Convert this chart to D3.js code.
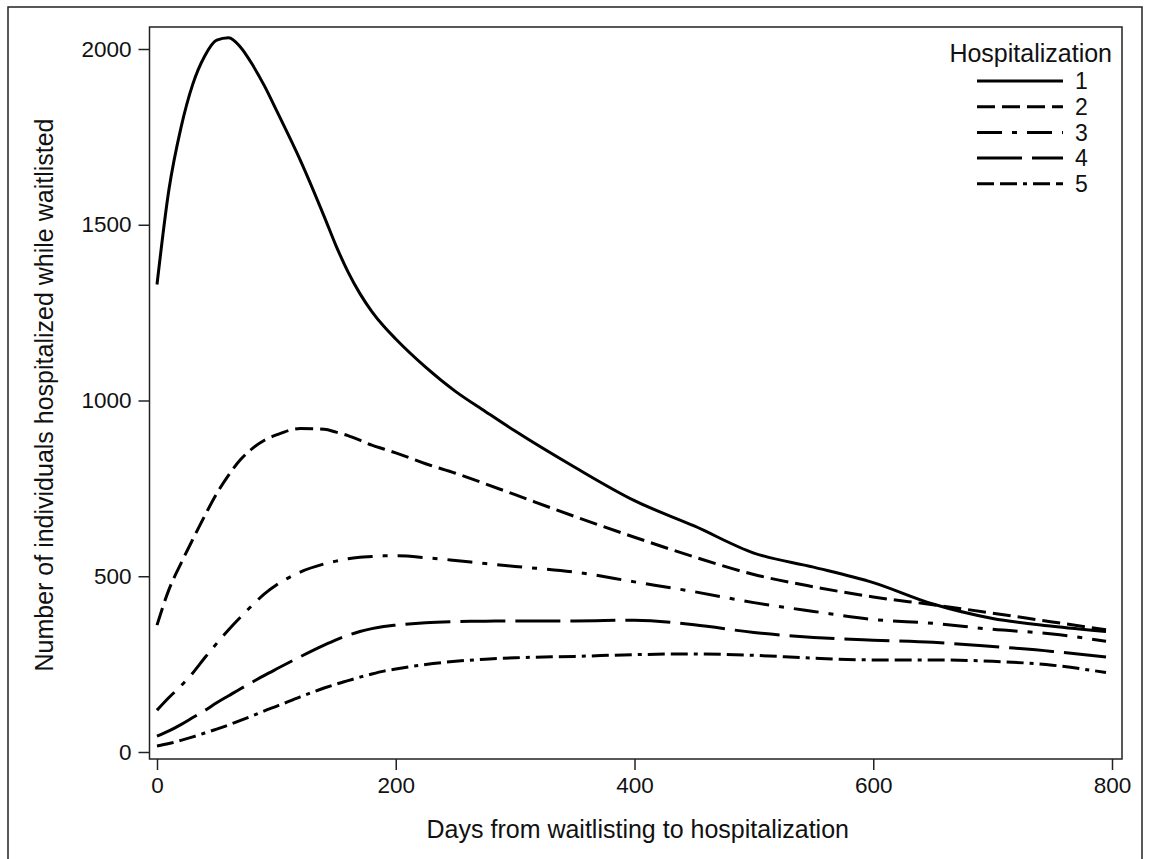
<!DOCTYPE html>
<html>
<head>
<meta charset="utf-8">
<script src="https://cdn.jsdelivr.net/npm/d3@7"></script>
<style>
	body { margin: 0; background: #fff; }
	text { font-family: "Liberation Sans", Arial, sans-serif; fill: #111; }
</style>
</head>
<body>
<div id="chart"></div>
<script>
// Days since waitlisting (x values shared by all series)
var days = [0, 10, 20, 30, 40, 50, 60, 70, 80, 90, 100, 120, 140, 150, 160, 170, 180, 190, 200, 225, 250, 275, 300, 350, 400, 450, 500, 550, 600, 650, 700, 750, 795];

// Number hospitalized, one array per hospitalization number
var hosp1 = [1330, 1600, 1775, 1900, 1980, 2025, 2032, 2005, 1955, 1895, 1826, 1684, 1524, 1440, 1366, 1304, 1253, 1211, 1175, 1095, 1026, 969, 913, 810, 715, 643, 566, 526, 482, 421, 380, 358, 343];
var hosp2 = [361, 462, 536, 605, 672, 735, 788, 832, 864, 887, 902, 920, 918, 910, 900, 887, 873, 862, 851, 820, 793, 763, 732, 670, 611, 555, 505, 470, 441, 419, 395, 370, 348];
var hosp3 = [119, 155, 188, 225, 268, 309, 348, 384, 418, 450, 475, 512, 535, 543, 550, 554, 556, 558, 558, 553, 545, 536, 528, 512, 484, 456, 425, 400, 377, 366, 349, 336, 315];
var hosp4 = [45, 60, 78, 98, 118, 140, 160, 180, 199, 218, 236, 271, 304, 319, 332, 343, 351, 357, 361, 368, 371, 372, 373, 373, 375, 362, 340, 326, 318, 312, 300, 286, 270];
var hosp5 = [17, 24, 33, 43, 54, 65, 77, 90, 103, 117, 130, 157, 182, 193, 203, 213, 222, 230, 236, 249, 258, 264, 268, 272, 277, 279, 275, 267, 262, 262, 258, 247, 226];

var seriesNames = ['1', '2', '3', '4', '5'];
var xTicks = [0, 200, 400, 600, 800];
var yTicks = [0, 500, 1000, 1500, 2000];

// Line patterns for each series
var dashes = ['none', '18 7', '25 10 5 10', '45 10', '17 6 17 6 4 6'];

var series = [hosp1, hosp2, hosp3, hosp4, hosp5].map(function(vals, i) {
	return { name: seriesNames[i], points: days.map(function(d, j) { return [d, vals[j]]; }) };
});

var W = 1149, H = 859;
var svg = d3.select('#chart').append('svg').attr('width', W).attr('height', H);

// Outer border (bottom edge falls just off the picture)
svg.append('rect').attr('x', 8).attr('y', 7).attr('width', 1134).attr('height', 856)
	.attr('fill', 'none').attr('stroke', '#222').attr('stroke-width', 1.5);

var x = d3.scaleLinear().domain([0, 800]).range([157, 1112]);
var y = d3.scaleLinear().domain([0, 2000]).range([752, 49]);

// Plot frame
var frame = { left: 149.5, top: 27, right: 1122, bottom: 759 };
svg.append('rect').attr('x', frame.left).attr('y', frame.top)
	.attr('width', frame.right - frame.left).attr('height', frame.bottom - frame.top)
	.attr('fill', 'none').attr('stroke', '#222').attr('stroke-width', 1.5);

// Axes
var xAxis = svg.append('g').attr('transform', 'translate(0,' + frame.bottom + ')')
	.call(d3.axisBottom(x).tickValues(xTicks).tickSize(11).tickPadding(7).tickFormat(d3.format('d')));
var yAxis = svg.append('g').attr('transform', 'translate(' + frame.left + ',0)')
	.call(d3.axisLeft(y).tickValues(yTicks).tickSize(11).tickPadding(7).tickFormat(d3.format('d')));
[xAxis, yAxis].forEach(function(a) {
	a.select('.domain').remove();
	a.selectAll('line').attr('stroke', '#222').attr('stroke-width', 1.5);
	a.selectAll('text').style('font-size', '22.5px').style('font-family', '"Liberation Sans", Arial, sans-serif').attr('fill', '#111');
});

// Axis titles
svg.append('text').attr('x', (frame.left + frame.right) / 2 + 2).attr('y', 838)
	.attr('text-anchor', 'middle').style('font-size', '25px')
	.text('Days from waitlisting to hospitalization');
svg.append('text').attr('transform', 'translate(53,' + ((frame.top + frame.bottom) / 2 + 2) + ') rotate(-90)')
	.attr('text-anchor', 'middle').style('font-size', '25px')
	.text('Number of individuals hospitalized while waitlisted');

// Curves
var line = d3.line().x(function(d) { return x(d[0]); }).y(function(d) { return y(d[1]); })
	.curve(d3.curveMonotoneX);
svg.selectAll('path.series').data(series).enter().append('path')
	.attr('class', 'series')
	.attr('d', function(d) { return line(d.points); })
	.attr('fill', 'none').attr('stroke', '#000').attr('stroke-width', 3)
	.attr('stroke-dasharray', function(d, i) { return dashes[i]; });

// Legend
var legend = svg.append('g');
legend.append('text').attr('x', 1112).attr('y', 62).attr('text-anchor', 'end')
	.style('font-size', '25px').text('Hospitalization');
var rows = legend.selectAll('g.row').data(series).enter().append('g')
	.attr('class', 'row')
	.attr('transform', function(d, i) { return 'translate(0,' + (81 + i * 25.7) + ')'; });
rows.append('line').attr('x1', 977).attr('x2', 1063).attr('y1', 0).attr('y2', 0)
	.attr('stroke', '#000').attr('stroke-width', 3)
	.attr('stroke-dasharray', function(d, i) { return dashes[i]; });
rows.append('text').attr('x', 1075).attr('dy', '0.36em')
	.style('font-size', '23px').text(function(d) { return d.name; });
</script>
</body>
</html>
